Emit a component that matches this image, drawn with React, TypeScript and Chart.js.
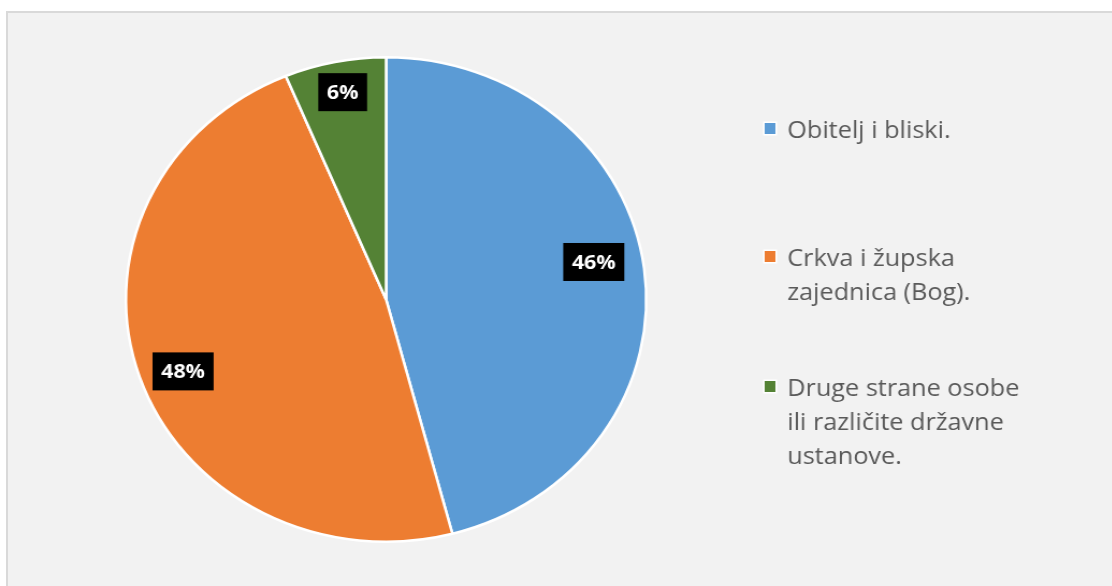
import React, { useEffect, useRef } from "react";
import { Chart, registerables } from "chart.js";

Chart.register(...registerables);

const categories: string[][] = [
  ["Obitelj i bliski."],
  ["Crkva i župska", "zajednica (Bog)."],
  ["Druge strane osobe", "ili različite državne", "ustanove."],
];
const values: number[] = [45.9, 47.8, 6.3];
const colors: string[] = ["#5b9bd5", "#ed7d31", "#548235"];

const STRETCH = 1.074;
const CW = Math.round(1112 / STRETCH);
const CH = 586;

// label placement (fraction of radius, angular shift in degrees)
const LABEL_RADIUS = [0.813, 0.835, 0.872];
const LABEL_SHIFT = [-3.6, -2.1, 0.3];

export default function App() {
  const ref = useRef<HTMLCanvasElement | null>(null);

  useEffect(() => {
    const prevMargin = document.body.style.margin;
    document.body.style.margin = "0";
    const canvas = ref.current;
    if (!canvas) return;

    const labelPlugin = {
      id: "pctLabels",
      afterDatasetsDraw(chart: any) {
        const ctx = chart.ctx;
        const meta = chart.getDatasetMeta(0);
        const data = chart.data.datasets[0].data as number[];
        const total = data.reduce((a, b) => a + b, 0);
        ctx.save();
        ctx.font = "bold 20px 'Open Sans'";
        ctx.textAlign = "center";
        ctx.textBaseline = "middle";
        meta.data.forEach((arc: any, i: number) => {
          const p = arc.getProps(["x", "y", "startAngle", "endAngle", "outerRadius"], true);
          const mid = (p.startAngle + p.endAngle) / 2 + (LABEL_SHIFT[i] * Math.PI) / 180;
          const r = p.outerRadius * LABEL_RADIUS[i];
          const cx = p.x + Math.cos(mid) * r;
          const cy = p.y + Math.sin(mid) * r;
          const txt = Math.round((data[i] / total) * 100) + "%";
          const w = ctx.measureText(txt).width + 16;
          const h = 38;
          ctx.fillStyle = "#000";
          ctx.fillRect(cx - w / 2, cy - h / 2, w, h);
          ctx.fillStyle = "#fff";
          ctx.fillText(txt, cx, cy + 1);
        });
        ctx.restore();
      },
    };

    const legendPlugin = {
      id: "customLegend",
      afterDraw(chart: any) {
        const ctx = chart.ctx;
        const labels = chart.data.labels as string[][];
        const bg = chart.data.datasets[0].backgroundColor as string[];
        const x0 = 712;
        const tx = 733;
        const firstBaselines = [138, 266, 396];
        const lh = 34;
        ctx.save();
        ctx.font = "23.5px 'Open Sans'";
        ctx.textAlign = "left";
        ctx.textBaseline = "alphabetic";
        labels.forEach((lines, i) => {
          const by = firstBaselines[i];
          ctx.fillStyle = "#ffffff";
          ctx.fillRect(x0 - 1.5, by - 16.5, 13, 14);
          ctx.fillStyle = bg[i];
          ctx.fillRect(x0, by - 15, 10, 11);
          ctx.fillStyle = "#595959";
          lines.forEach((ln, j) => {
            ctx.fillText(ln, tx, by + j * lh);
          });
        });
        ctx.restore();
      },
    };

    const chart = new Chart(canvas, {
      type: "pie",
      data: {
        labels: categories,
        datasets: [
          {
            data: values,
            backgroundColor: colors,
            borderColor: "#ffffff",
            borderWidth: 2.5,
          },
        ],
      },
      options: {
        animation: false,
        responsive: true,
        maintainAspectRatio: false,
        layout: { padding: { top: 56, bottom: 43, left: 116, right: CW - 116 - 487 } },
        plugins: {
          legend: { display: false },
          tooltip: { enabled: false },
        },
      },
      plugins: [labelPlugin, legendPlugin],
    });

    return () => {
      chart.destroy();
      document.body.style.margin = prevMargin;
    };
  }, []);

  return (
    <div style={{ position: "relative", width: 1112, height: 586, overflow: "hidden", background: "#ffffff" }}>
      <div
        style={{
          position: "absolute",
          left: 6,
          top: 11,
          width: 1120,
          height: 600,
          background: "#f2f2f2",
          borderLeft: "2px solid #d9d9d9",
          borderTop: "2px solid #d9d9d9",
        }}
      />
      <div
        style={{
          position: "absolute",
          left: 0,
          top: 0,
          width: CW,
          height: CH,
          transform: `scaleX(${STRETCH})`,
          transformOrigin: "0 0",
        }}
      >
        <canvas ref={ref} />
      </div>
    </div>
  );
}
